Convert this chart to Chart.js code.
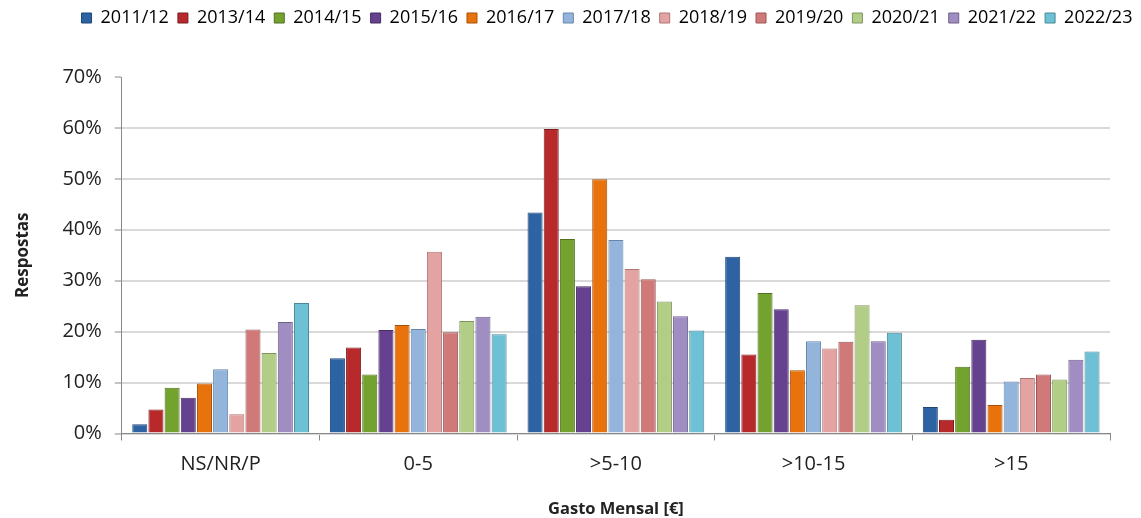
<!DOCTYPE html>
<html><head><meta charset="utf-8">
<script src="https://cdn.jsdelivr.net/npm/chart.js@4.4.1/dist/chart.umd.min.js"></script>
<style>html,body{margin:0;padding:0;background:#fff}#wrap{width:1141px;height:518px}</style>
</head><body><div id="wrap"><canvas id="c" width="1141" height="518"></canvas></div>
<script>
const categories = ["NS/NR/P", "0-5", ">5-10", ">10-15", ">15"];
const seriesNames = ["2011/12","2013/14","2014/15","2015/16","2016/17","2017/18","2018/19","2019/20","2020/21","2021/22","2022/23"];
const s2011_12 = [1.8, 14.8, 43.4, 34.7, 5.2];
const s2013_14 = [4.7, 16.9, 59.8, 15.5, 2.7];
const s2014_15 = [9.0, 11.6, 38.2, 27.6, 13.1];
const s2015_16 = [7.0, 20.3, 28.9, 24.4, 18.4];
const s2016_17 = [9.8, 21.3, 49.9, 12.4, 5.6];
const s2017_18 = [12.6, 20.5, 38.0, 18.1, 10.2];
const s2018_19 = [3.8, 35.7, 32.3, 16.7, 10.9];
const s2019_20 = [20.4, 19.9, 30.3, 18.0, 11.6];
const s2020_21 = [15.8, 22.1, 25.9, 25.2, 10.6];
const s2021_22 = [21.9, 22.9, 23.0, 18.1, 14.5];
const s2022_23 = [25.6, 19.5, 20.2, 19.8, 16.1];
const yTicks = [0,10,20,30,40,50,60,70];

const values = [s2011_12,s2013_14,s2014_15,s2015_16,s2016_17,s2017_18,s2018_19,s2019_20,s2020_21,s2021_22,s2022_23];
const fills = ["#2D62A3","#B8292C","#74A22F","#65418F","#E8730C","#93B5DB","#E3A3A2","#CF7A79","#B2CD86","#A08DC2","#6EC0D5"];
const borders = ["#1F4677","#7E1C1E","#50711F","#452C63","#A65008","#6786A8","#B07574","#9A5756","#7E945E","#6F618A","#4A8898"];

function lighten(hex, f){
  const n=parseInt(hex.slice(1),16);let r=n>>16,g=(n>>8)&255,b=n&255;
  r=Math.round(r+(255-r)*f);g=Math.round(g+(255-g)*f);b=Math.round(b+(255-b)*f);
  return `rgb(${r},${g},${b})`;
}
function darken(hex, f){
  const n=parseInt(hex.slice(1),16);let r=n>>16,g=(n>>8)&255,b=n&255;
  return `rgb(${Math.round(r*(1-f))},${Math.round(g*(1-f))},${Math.round(b*(1-f))})`;
}
function barFill(i){
  return function(ctx){
    const el = ctx.element;
    const chart = ctx.chart;
    if(!el || el.x===undefined || !el.width) return fills[i];
    const x0 = el.x - el.width/2, x1 = el.x + el.width/2;
    if(!isFinite(x0)||!isFinite(x1)) return fills[i];
    const g = chart.ctx.createLinearGradient(x0,0,x1,0);
    g.addColorStop(0, darken(fills[i],0.1));
    g.addColorStop(0.35, lighten(fills[i],0.12));
    g.addColorStop(1, darken(fills[i],0.15));
    return g;
  };
}

const datasets = seriesNames.map((n,i)=>({
  label:n, data:values[i],
  backgroundColor: barFill(i),
  borderColor: borders[i], borderWidth:1,
  categoryPercentage:0.9, barPercentage:0.93
}));

const legendSpace = {
  id:'legendSpace',
  beforeInit(chart){
    const orig = chart.legend.fit;
    chart.legend.fit = function(){ orig.bind(chart.legend)(); this.height += 40; };
  },
  afterLayout(chart){
    chart.legend.left += 52; chart.legend.right += 52;
  }
};

const font = "'Open Sans', 'Liberation Sans', sans-serif";
new Chart(document.getElementById('c'),{
  type:'bar',
  data:{labels:categories, datasets},
  plugins:[legendSpace],
  options:{
    responsive:false, animation:false,
    layout:{padding:{left:0,right:31,top:0,bottom:0}},
    plugins:{
      legend:{position:'top',align:'center',
        labels:{boxWidth:10,boxHeight:10,padding:9,color:'#222',font:{family:font,size:18},
          generateLabels(chart){
            return seriesNames.map((n,i)=>({text:n,fillStyle:fills[i],strokeStyle:borders[i],lineWidth:1,datasetIndex:i,hidden:false}));
          }}},
      tooltip:{enabled:false}
    },
    scales:{
      x:{
        grid:{display:true,drawOnChartArea:false,tickLength:7,color:'#888',offset:true},
        border:{color:'#888',width:1},
        ticks:{color:'#222',font:{family:font,size:20},padding:12},
        title:{display:true,text:'Gasto Mensal [€]',color:'#222',font:{family:font,size:16.5,weight:'bold',lineHeight:1.0},padding:{top:13,bottom:0}}
      },
      y:{
        min:0,max:70,
        afterBuildTicks(ax){ax.ticks=yTicks.map(v=>({value:v}));},
        grid:{color:c=>c.tick && c.tick.value===70?'rgba(0,0,0,0)':'#d9d9d9',lineWidth:2,tickLength:7,tickColor:'#888',tickWidth:1,drawTicks:true},
        border:{color:'#888',width:1},
        ticks:{color:'#222',font:{family:font,size:20},padding:13,callback:v=>v+'%'},
        title:{display:true,text:'Respostas',color:'#222',font:{family:font,size:17,weight:'bold'},padding:{top:13,bottom:16}}
      }
    }
  }
});
</script></body></html>
